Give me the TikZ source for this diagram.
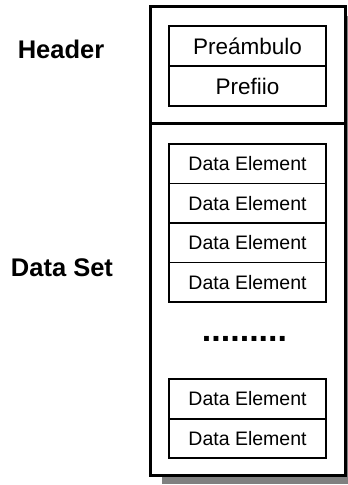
\documentclass[tikz,border=0pt]{standalone}
\usepackage{fontspec}
\setmainfont{Liberation Sans}
\usetikzlibrary{positioning,shadows}

\begin{document}
\begin{tikzpicture}[
  x=1pt, y=-1pt,
  frame/.style={rectangle, draw, line width=3pt, fill=white, outer sep=0pt, inner sep=0pt,
    drop shadow={shadow xshift=12pt, shadow yshift=-9pt, fill=gray, opacity=1}},
  part/.style={rectangle, draw, line width=1.8pt, outer sep=0pt, inner sep=0pt,
    minimum width=157pt, font=\fontsize{22.5}{26}\selectfont},
  elem/.style={part, minimum height=39.5pt, font=\fontsize{19.5}{22}\selectfont},
  side/.style={font=\fontsize{25.5}{30}\selectfont\bfseries}
]
\clip (0,0) rectangle (348,485);

% Outer frame: header on top, data set below
\node[frame, minimum width=195pt, minimum height=116.5pt] (HDR) at (247.5,64.75) {};
\node[frame, minimum width=195pt, minimum height=352pt, below=0pt of HDR] (SET) {};

% Header parts
\node[part, minimum height=40pt] (PRE) at (247.5,46) {Preámbulo};
\node[part, minimum height=40pt, below=0pt of PRE] (PREF) {Prefiio};

% Data elements
\node[elem] (E1) at (247.5,163.75) {Data Element};
\node[elem, below=0pt of E1] (E2) {Data Element};
\node[elem, below=0pt of E2] (E3) {Data Element};
\node[elem, below=0pt of E3] (E4) {Data Element};

\node[font=\fontsize{34}{36}\selectfont\bfseries, anchor=base] (DOTS) at (244.5,341.5) {.........};

\node[elem] (E5) at (247.5,399) {Data Element};
\node[elem, below=0pt of E5] (E6) {Data Element};

% Side labels
\node[side] (LHDR) at (61,49) {Header};
\node[side] (LSET) at (62,268) {Data Set};

\end{tikzpicture}
\end{document}
